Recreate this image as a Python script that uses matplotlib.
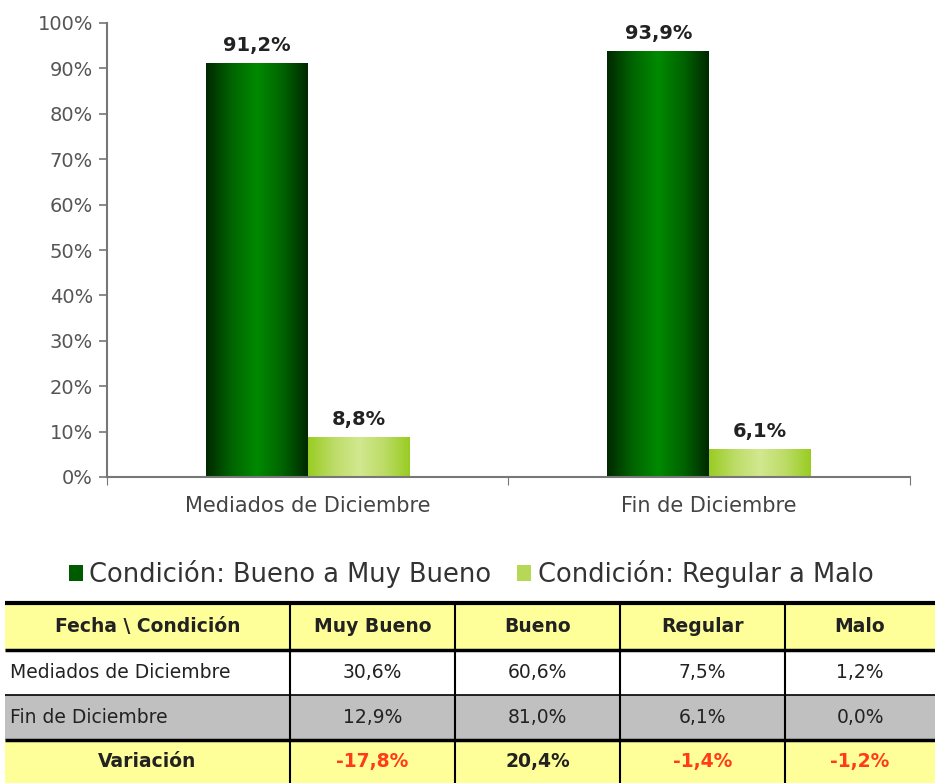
import numpy as np
import matplotlib
matplotlib.use("Agg")
import matplotlib.pyplot as plt
from matplotlib.patches import Rectangle
from matplotlib.colors import LinearSegmentedColormap

# ---- data ----
categories = ["Mediados de Diciembre", "Fin de Diciembre"]
series_names = ["Condición: Bueno a Muy Bueno", "Condición: Regular a Malo"]
bueno_muy_bueno = [91.2, 93.9]
regular_malo = [8.8, 6.1]
bar_labels_1 = ["91,2%", "93,9%"]
bar_labels_2 = ["8,8%", "6,1%"]
y_ticks = [0, 10, 20, 30, 40, 50, 60, 70, 80, 90, 100]

table_header = ["Fecha \\ Condición", "Muy Bueno", "Bueno", "Regular", "Malo"]
table_rows = [
    ["Mediados de Diciembre", "30,6%", "60,6%", "7,5%", "1,2%"],
    ["Fin de Diciembre", "12,9%", "81,0%", "6,1%", "0,0%"],
    ["Variación", "-17,8%", "20,4%", "-1,4%", "-1,2%"],
]
variacion_values = [-17.8, 20.4, -1.4, -1.2]

W, H = 935, 783
fig = plt.figure(figsize=(W / 100, H / 100), dpi=100)
fig.patch.set_facecolor("white")

def px_axes(l, t, r, b):
    return [l / W, 1 - b / H, (r - l) / W, (b - t) / H]

ax = fig.add_axes(px_axes(107, 23, 910, 477))
x = np.array([0.5, 1.5])
bw = 0.254

dark_cmap = LinearSegmentedColormap.from_list(
    "dk", ["#002800", "#006400", "#008a00", "#006400", "#002800"])
light_cmap = LinearSegmentedColormap.from_list(
    "lt", ["#99cc22", "#bcdc66", "#d2e890", "#bcdc66", "#99cc22"])

grad = np.linspace(0, 1, 256).reshape(1, -1)

def grad_bars(xs, heights, cmap):
    bars = ax.bar(xs, heights, width=bw, color="none", edgecolor="none", zorder=2)
    for b in bars:
        x0, y0 = b.get_x(), b.get_y()
        im = ax.imshow(grad, cmap=cmap, aspect="auto",
                       extent=[x0, x0 + b.get_width(), y0, y0 + b.get_height()],
                       zorder=2, interpolation="bicubic")
        im.set_clip_path(b)
    return bars

b1 = grad_bars(x - bw / 2, bueno_muy_bueno, dark_cmap)
b2 = grad_bars(x + bw / 2, regular_malo, light_cmap)

for xi, v, s in zip(x - bw / 2, bueno_muy_bueno, bar_labels_1):
    ax.text(xi, v + 1.8, s, ha="center", va="bottom", fontsize=14,
            fontweight="bold", color="#222222")
for xi, v, s in zip(x + bw / 2, regular_malo, bar_labels_2):
    ax.text(xi, v + 1.8, s, ha="center", va="bottom", fontsize=14,
            fontweight="bold", color="#222222")

ax.set_xlim(0, 2)
ax.set_ylim(0, 100)
ax.set_yticks(y_ticks)
ax.set_yticklabels([f"{t}%" for t in y_ticks], fontsize=14, color="#555555")
ax.set_xticks([0, 1, 2])
ax.set_xticklabels([])
ax.set_xticks(x, minor=True)
ax.set_xticklabels(categories, minor=True, fontsize=15, color="#444444")
ax.tick_params(axis="x", which="minor", length=0, pad=14)
ax.tick_params(axis="x", which="major", length=6, direction="out", color="#777777")
ax.tick_params(axis="y", length=6, color="#777777", width=1.2, pad=4)
for sp in ["top", "right"]:
    ax.spines[sp].set_visible(False)
for sp in ["left", "bottom"]:
    ax.spines[sp].set_color("#777777")
    ax.spines[sp].set_linewidth(1.5)
ax.set_facecolor("white")

# legend
leg_handles = [Rectangle((0, 0), 1, 1, facecolor="#005a00"),
               Rectangle((0, 0), 1, 1, facecolor="#b5d955")]
fig.legend(leg_handles, series_names, loc="center", bbox_to_anchor=(471 / W, 1 - 574 / H),
           ncol=2, frameon=False, fontsize=18.5, handlelength=0.55, handleheight=0.6,
           handletextpad=0.25, columnspacing=1.0, labelcolor="#333333")

# table
tax = fig.add_axes([0, 0, 1, 1], zorder=5)
tax.set_xlim(0, W)
tax.set_ylim(H, 0)
tax.axis("off")
col_edges = [5, 290, 455, 620, 785, 940]
row_edges = [603, 650, 695, 740, 790]
fills = ["#ffff99", "white", "#c0c0c0", "#ffff99"]
for r in range(4):
    tax.add_patch(Rectangle((col_edges[0], row_edges[r]), col_edges[-1] - col_edges[0],
                            row_edges[r + 1] - row_edges[r], facecolor=fills[r],
                            edgecolor="none"))
for yv, lw in zip(row_edges[:4], [3, 2.5, 1.2, 2.5]):
    tax.plot([col_edges[0], col_edges[-1]], [yv, yv], color="black", lw=lw,
             solid_capstyle="butt")
for xv in col_edges[1:-1]:
    tax.plot([xv, xv], [row_edges[0], row_edges[-1]], color="black", lw=1.5)

all_rows = [table_header] + table_rows
for r, row in enumerate(all_rows):
    yc = (row_edges[r] + min(row_edges[r + 1], H)) / 2
    for c, txt in enumerate(row):
        bold = (r == 0) or (r == 3 and c == 0)
        color = "#222222"
        if r == 3 and c > 0:
            v = variacion_values[c - 1]
            color = "#ff3b1a" if v < 0 else "#222222"
            bold = True
        if c == 0 and r in (1, 2):
            xc, ha = col_edges[0] + 5, "left"
        else:
            xc, ha = (col_edges[c] + min(col_edges[c + 1], W)) / 2, "center"
        tax.text(xc, yc, txt, ha=ha, va="center", fontsize=13.5,
                 fontweight="bold" if bold else "normal", color=color)

fig.savefig("out.png", dpi=100, facecolor="white")
